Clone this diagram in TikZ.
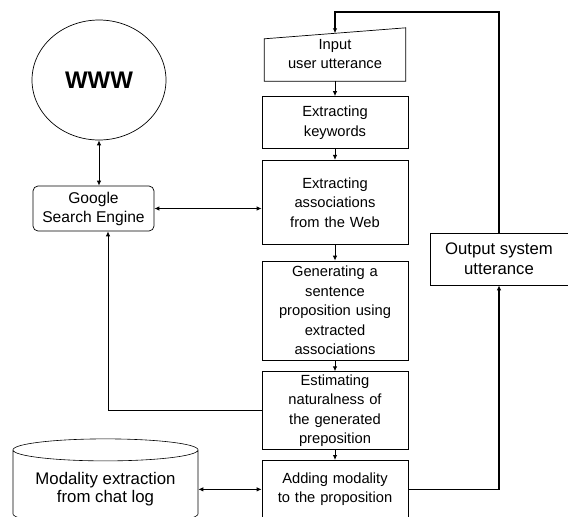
\documentclass[tikz,border=0pt]{standalone}
\usepackage{fontspec}
\setmainfont{Liberation Sans}
\usetikzlibrary{shapes.geometric, arrows.meta, positioning}

\begin{document}
\begin{tikzpicture}[
    x=1pt, y=1pt,
    node distance=11pt,
    stage/.style={rectangle, draw, line width=0.7pt, minimum width=146pt, text width=138pt, inner sep=2pt, align=center, font=\fontsize{14.7}{19.5}\selectfont},
    side/.style={rectangle, draw, line width=0.7pt, align=center, inner sep=2pt, font=\fontsize{16.7}{20}\selectfont},
    web/.style={ellipse, draw, line width=0.7pt, minimum width=134pt, minimum height=120pt, inner sep=0pt, font=\bfseries\fontsize{24}{28}\selectfont},
    engine/.style={rectangle, draw, line width=0.7pt, rounded corners=5pt, minimum width=121pt, minimum height=45pt, align=center, inner sep=2pt, font=\fontsize{15.6}{19}\selectfont},
    store/.style={cylinder, shape border rotate=90, aspect=0.15, draw, line width=0.6pt, minimum width=185pt, minimum height=86pt, align=center, font=\fontsize{16.8}{18}\selectfont},
    arrow/.style={line width=0.9pt, -{Latex[length=5pt, width=4.5pt]}},
    biarrow/.style={line width=0.9pt, {Latex[length=5pt, width=4.5pt]}-{Latex[length=5pt, width=4.5pt]}},
    back/.style={line width=1.4pt, -{Latex[length=5pt, width=4.5pt]}}
  ]
  \useasboundingbox (0,0) rectangle (568,-517);

  % Main column
  \node (input) [minimum width=141pt, minimum height=53pt, align=center, inner sep=2pt, font=\fontsize{14.7}{19}\selectfont] at (335,-54.5) {Input\\user utterance};
  \node (keywords) [stage, minimum height=52pt, below=15pt of input] {Extracting\\keywords};
  \node (assoc) [stage, minimum height=84pt, below=of keywords] {Extracting\\associations\\from the Web};
  \node (generate) [stage, minimum height=99pt, below=16pt of assoc] {Generating a\\sentence\\proposition using\\extracted\\associations};
  \node (estimate) [stage, minimum height=78pt, below=of generate] {Estimating\\naturalness of\\the generated\\preposition};
  \node (modality) [stage, minimum height=58pt, below=10pt of estimate] {Adding modality\\to the proposition};

  % Side nodes
  \node (output) [side, minimum width=138pt, minimum height=52pt] at (499,-259) {Output system\\utterance};
  \node (www) [web] at (99,-80) {WWW};
  \node (google) [engine] at (93.5,-208.5) {Google\\Search Engine};
  \node (chatlog) [store] at (105.5,-489) {Modality extraction\\from chat log};

  % Input box outline
  \draw [line width=0.7pt] (input.south west) -- ([yshift=-11pt]input.north west) -- (input.north east) -- (input.south east) -- cycle;
  \coordinate (inmid) at ([yshift=-5.5pt]input.north);

  % Connections
  \draw [arrow] (input) -- (keywords);
  \draw [arrow] (keywords) -- (assoc);
  \draw [arrow] (assoc) -- (generate);
  \draw [arrow] (generate) -- (estimate);
  \draw [arrow] (estimate) -- (modality);
  \draw [biarrow] (www.south) -- (www.south |- google.north);
  \draw [biarrow] (google.east) -- (google.east -| assoc.west);
  \draw [arrow] (estimate.west) -| ([xshift=14.5pt]google.south);
  \draw [biarrow] (chatlog.east |- modality.west) -- (modality.west);
  \draw [back] (modality.east) -| (output.south);
  \draw [back] (output.north) |- ([yshift=16pt]input.north) -- (inmid);

\end{tikzpicture}
\end{document}
